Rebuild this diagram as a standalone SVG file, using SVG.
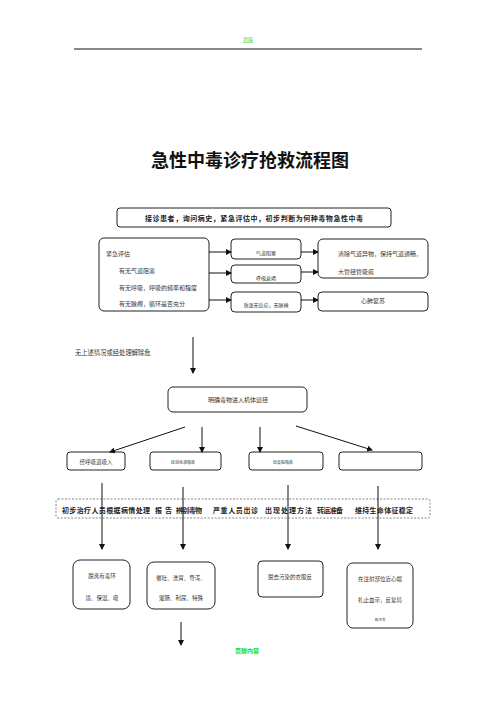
<svg xmlns="http://www.w3.org/2000/svg" width="496" height="702" viewBox="0 0 496 702">
<defs>
<marker id="ah" markerWidth="6" markerHeight="6" refX="5" refY="3" orient="auto" markerUnits="userSpaceOnUse">
<path d="M0,0 L6,3 L0,6 z" fill="#111"/>
</marker>
<style>
.t{font-family:"Noto Sans CJK SC","Liberation Serif",serif;fill:#333;}
.b{fill:#fff;stroke:#222;stroke-width:1;}
.c line{stroke:#111;stroke-width:1;}
.c line.a{marker-end:url(#ah);}
</style>
</defs>
<rect width="496" height="702" fill="#fff"/>
<text class="t" x="248" y="41" font-size="5" text-anchor="middle" style="fill:#3c3;text-decoration:underline">页眉</text>
<line x1="74" y1="49" x2="422" y2="49" stroke="#111" stroke-width="1"/>
<text x="250" y="167" font-size="18" font-weight="bold" text-anchor="middle" font-family="Noto Sans CJK SC, sans-serif" fill="#111">急性中毒诊疗抢救流程图</text>

<g id="header"><rect class="b" x="117" y="208" width="274" height="19" rx="3"/>
<text class="t" x="254" y="221" font-size="7" font-weight="bold" text-anchor="middle" textLength="218" style="fill:#222">接诊患者，询问病史，紧急评估中，初步判断为何种毒物急性中毒</text></g>

<g id="assess"><rect class="b" x="99" y="238" width="110" height="73" rx="5"/>
<text class="t" x="106" y="256" font-size="6">紧急评估</text>
<text class="t" x="119" y="273" font-size="6">有无气道阻塞</text>
<text class="t" x="119" y="290" font-size="6">有无呼吸，呼吸的频率和程度</text>
<text class="t" x="119" y="306" font-size="6">有无脉搏，循环是否充分</text></g>

<g id="m1"><rect class="b" x="231" y="239" width="70" height="20" rx="4"/><text class="t" x="266" y="255" font-size="5" text-anchor="middle">气道阻塞</text></g>
<g id="m2"><rect class="b" x="231" y="265" width="70" height="18" rx="4"/><text class="t" x="266" y="280" font-size="5" text-anchor="middle">呼吸衰竭</text></g>
<g id="m3"><rect class="b" x="231" y="292" width="70" height="20" rx="4"/><text class="t" x="266" y="307" font-size="5" text-anchor="middle">昏迷无反应，无脉搏</text></g>

<g id="r1"><rect class="b" x="318" y="239" width="110" height="39" rx="5"/>
<text class="t" x="338" y="256" font-size="6">清除气道异物，保持气道通畅，</text>
<text class="t" x="338" y="274" font-size="6">大管径管吸痰</text></g>
<g id="r2"><rect class="b" x="318" y="292" width="110" height="19" rx="4"/><text class="t" x="373" y="303" font-size="6" text-anchor="middle">心肺复苏</text></g>

<text class="t" x="75" y="355" font-size="6.3">无上述情况或经处理解除危</text>

<g id="route"><rect class="b" x="168" y="387" width="139" height="25" rx="5"/><text class="t" x="238" y="402" font-size="6" text-anchor="middle">明确毒物进入机体途径</text></g>

<g id="p1"><rect class="b" x="67" y="452" width="58" height="18" rx="3"/><text class="t" x="96" y="464" font-size="5.5" text-anchor="middle">经呼吸道吸入</text></g>
<g id="p2"><rect class="b" x="150" y="452" width="71" height="18" rx="3"/><text class="t" x="183" y="464" font-size="4" text-anchor="middle">经消化道吸收</text></g>
<g id="p3"><rect class="b" x="249" y="452" width="74" height="18" rx="3"/><text class="t" x="283" y="464" font-size="4" text-anchor="middle">经皮肤吸收</text></g>
<g id="p4"><rect class="b" x="339" y="452" width="83" height="18" rx="3"/></g>

<g id="treat"><rect x="56" y="499" width="374" height="19" rx="2" fill="none" stroke="#666" stroke-width="0.8" stroke-dasharray="2,1.5"/>
<g font-size="7" font-weight="bold" style="fill:#222">
<text class="t" x="62" y="513" textLength="88" style="fill:#222">初步治疗人员根据病情处理</text>
<text class="t" x="155" y="513" textLength="17" style="fill:#222">报告</text>
<text class="t" x="176" y="513" textLength="26" style="fill:#222">辨别毒物</text>
<text class="t" x="213" y="513" textLength="45" style="fill:#222">严重人员出诊</text>
<text class="t" x="265" y="513" textLength="47" style="fill:#222">出现处理方法</text>
<text class="t" x="317" y="513" textLength="26" style="fill:#222">转运准备</text>
<text class="t" x="355" y="513" textLength="58" style="fill:#222">维持生命体征稳定</text>
</g></g>

<g id="q1"><rect class="b" x="73" y="560" width="57" height="49" rx="7"/>
<text class="t" x="102" y="578" font-size="5.5" text-anchor="middle">脱离有毒环</text>
<text class="t" x="102" y="600" font-size="5.5" text-anchor="middle">境、保温、吸</text></g>
<g id="q2"><rect class="b" x="147" y="562" width="68" height="47" rx="7"/>
<text class="t" x="181" y="580" font-size="5.5" text-anchor="middle">催吐、洗胃、导泻、</text>
<text class="t" x="181" y="600" font-size="5.5" text-anchor="middle">灌肠、利尿、特殊</text></g>
<g id="q3"><rect class="b" x="258" y="561" width="65" height="36" rx="4"/>
<text class="t" x="290" y="579" font-size="5.5" text-anchor="middle">脱去污染的衣服反</text></g>
<g id="q4"><rect class="b" x="347" y="563" width="66" height="65" rx="6"/>
<text class="t" x="380" y="581" font-size="5.5" text-anchor="middle">在注射部位近心端</text>
<text class="t" x="380" y="602" font-size="5.5" text-anchor="middle">扎止血带，反复局</text>
<text class="t" x="380" y="621" font-size="3.5" text-anchor="middle">部冲洗</text></g>

<text x="247" y="653" font-size="6" font-weight="bold" text-anchor="middle" font-family="Noto Sans CJK SC, sans-serif" fill="#2d2">页脚内容</text>

<g id="connectors" class="c">
<line class="a" x1="209" y1="252" x2="231" y2="252"/>
<line class="a" x1="209" y1="273" x2="231" y2="273"/>
<line class="a" x1="209" y1="300" x2="231" y2="300"/>
<line class="a" x1="301" y1="252" x2="318" y2="252"/>
<line class="a" x1="301" y1="272" x2="318" y2="272"/>
<line class="a" x1="301" y1="300" x2="318" y2="300"/>
<line class="a" x1="193" y1="337" x2="193" y2="373"/>
<line class="a" x1="185" y1="427" x2="110" y2="452"/>
<line class="a" x1="202" y1="427" x2="202" y2="452"/>
<line class="a" x1="260" y1="427" x2="260" y2="452"/>
<line class="a" x1="296" y1="426" x2="372" y2="450"/>
<line class="a" x1="102" y1="483" x2="102" y2="549"/>
<line class="a" x1="183" y1="487" x2="183" y2="549"/>
<line class="a" x1="288" y1="485" x2="288" y2="549"/>
<line class="a" x1="378" y1="486" x2="378" y2="549"/>
<line class="a" x1="181" y1="622" x2="181" y2="645"/>
</g>
</svg>
